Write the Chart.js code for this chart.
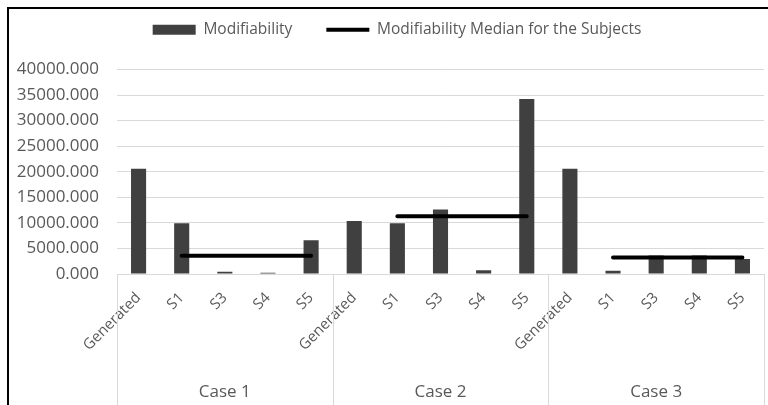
<!DOCTYPE html>
<html>
<head>
<meta charset="utf-8">
<script src="https://cdn.jsdelivr.net/npm/chart.js@4.4.1/dist/chart.umd.min.js"></script>
<style>
  html, body { margin: 0; padding: 0; background: #fff; overflow: hidden; }
  #frame { position: absolute; left: 7px; top: 7px; width: 900px; height: 500px;
           border-left: 2px solid #000; border-top: 2px solid #000; }
  #wrap { position: absolute; left: 0; top: -12px; width: 768px; height: 417px; }
</style>
</head>
<body>
<div id="frame"></div>
<div id="wrap"><canvas id="chart"></canvas></div>
<script>
// data
const cases = ['Case 1', 'Case 2', 'Case 3'];
const subjects = ['Generated', 'S1', 'S3', 'S4', 'S5'];
const modifiability = [
  20600, 9950, 450, 250, 6600,     // Case 1
  10350, 9950, 12600, 720, 34250,  // Case 2
  20600, 650, 3600, 3600, 2930     // Case 3
];
const medianForSubjects = [3550, 11300, 3250];
const yTicks = { min: 0, max: 40000, step: 5000 };

const labels = [];
const medianLine = [];
cases.forEach((c, ci) => {
  subjects.forEach((s, si) => {
    labels.push(s);
    medianLine.push(si === 0 ? null : medianForSubjects[ci]);
  });
});

const tickColor = '#595959';
const gridColor = '#d9d9d9';
const fontName = "'Open Sans', sans-serif";

// vertical separators between the cases, under the x axis
const groupLines = {
  id: 'groupLines',
  afterDraw(chart) {
    const x = chart.scales.x;
    const ctx = chart.ctx;
    const half = (x.getPixelForValue(1) - x.getPixelForValue(0)) / 2;
    ctx.save();
    ctx.strokeStyle = gridColor;
    ctx.lineWidth = 1;
    ctx.beginPath();
    for (let i = 0; i <= labels.length; i += subjects.length) {
      const px = Math.round(x.getPixelForValue(i) - half) + 0.5;
      ctx.moveTo(px, x.top);
      ctx.lineTo(px, chart.height);
    }
    ctx.stroke();
    ctx.restore();
  }
};

// more room under the legend, and centre it over the plot like the original
const legendGap = {
  id: 'legendGap',
  afterInit(chart) {
    const lg = chart.legend;
    if (!lg || lg._gapPatched) return;
    const fit = lg.fit;
    lg.fit = function () { fit.call(this); this.height += 22; };
    lg._gapPatched = true;
  },
  afterLayout(chart) {
    const lg = chart.legend;
    if (!lg) return;
    lg.left += 15;
    lg.right += 15;
  }
};

new Chart(document.getElementById('chart'), {
  data: {
    labels: labels,
    datasets: [
      {
        type: 'bar',
        label: 'Modifiability',
        data: modifiability,
        backgroundColor: '#404040',
        borderWidth: 0,
        barPercentage: 0.35,
        categoryPercentage: 1,
        pointStyle: 'rect',
        xAxisID: 'x',
        order: 2
      },
      {
        type: 'line',
        label: 'Modifiability Median for the Subjects',
        data: medianLine,
        borderColor: '#000',
        backgroundColor: '#000',
        borderWidth: 4,
        borderCapStyle: 'round',
        pointRadius: 0,
        pointStyle: 'line',
        spanGaps: false,
        xAxisID: 'x',
        order: 1
      }
    ]
  },
  options: {
    responsive: true,
    maintainAspectRatio: false,
    animation: false,
    layout: { padding: { top: 0, right: 4, left: 0, bottom: 0 } },
    plugins: {
      tooltip: { enabled: false },
      legend: {
        position: 'top',
        labels: {
          usePointStyle: true,
          pointStyleWidth: 43,
          boxHeight: 10,
          padding: 34,
          color: tickColor,
          font: { family: fontName, size: 15.5 },
          sort: (a, b) => a.datasetIndex - b.datasetIndex
        }
      }
    },
    scales: {
      x: {
        type: 'category',
        position: 'bottom',
        weight: 0,
        offset: true,
        grid: { display: false },
        border: { display: true, color: gridColor },
        ticks: {
          autoSkip: false,
          minRotation: 45,
          maxRotation: 45,
          padding: 7,
          color: tickColor,
          font: { family: fontName, size: 15 }
        },
        afterFit(s) { s.height = 98; s.paddingLeft = 0; s.paddingRight = 0; }
      },
      x2: {
        type: 'category',
        position: 'bottom',
        weight: 1,
        labels: cases,
        offset: true,
        grid: { display: false },
        border: { display: false },
        ticks: {
          maxRotation: 0,
          padding: 2,
          color: tickColor,
          font: { family: fontName, size: 17 }
        },
        afterFit(s) { s.height = 33; s.paddingLeft = 0; s.paddingRight = 0; }
      },
      y: {
        min: yTicks.min,
        max: yTicks.max,
        grid: { color: gridColor, drawTicks: false },
        border: { display: false },
        ticks: {
          stepSize: yTicks.step,
          padding: 18,
          color: tickColor,
          font: { family: fontName, size: 17 },
          callback: v => Number(v).toFixed(3)
        },
        afterFit(s) { s.width = 117; }
      }
    }
  },
  plugins: [groupLines, legendGap]
});
</script>
</body>
</html>
